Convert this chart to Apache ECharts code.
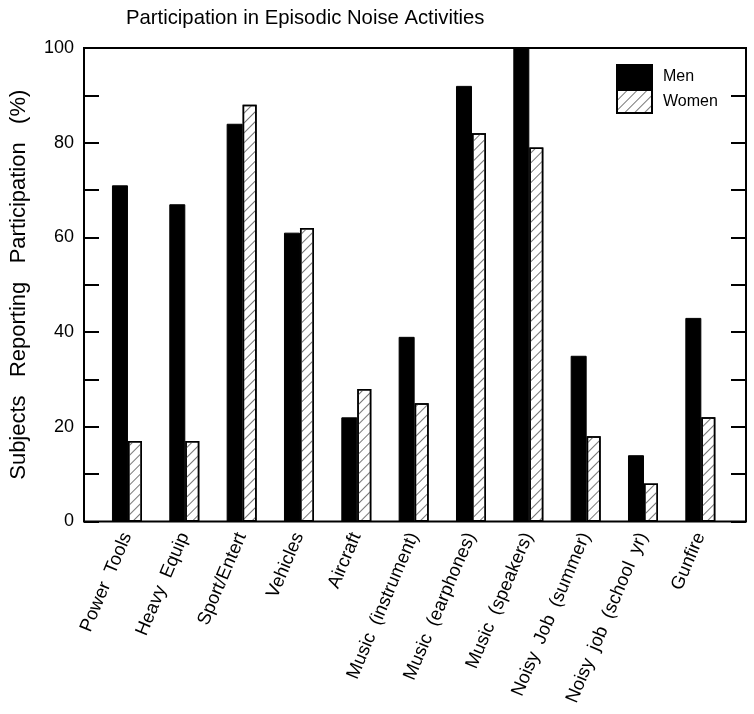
<!DOCTYPE html>
<html>
<head>
<meta charset="utf-8">
<script src="https://cdn.jsdelivr.net/npm/echarts@6/dist/echarts.min.js"></script>
<style>
  html, body { margin: 0; padding: 0; background: #fff; }
  #chart { width: 754px; height: 714px; }
</style>
</head>
<body>
<div id="chart"></div>
<script>
var categories = ['Power  Tools', 'Heavy  Equip', 'Sport/Entert', 'Vehicles', 'Aircraft',
  'Music  (instrument)', 'Music  (earphones)', 'Music  (speakers)', 'Noisy  Job  (summer)',
  'Noisy  job  (school  yr)', 'Gunfire'];
var men = [71, 67, 84, 61, 22, 39, 92, 100, 35, 14, 43];
var women = [17, 17, 88, 62, 28, 25, 82, 79, 18, 8, 22];
var yTicks = [0, 20, 40, 60, 80, 100];

var FONT = 'Liberation Sans';
var chart = echarts.init(document.getElementById('chart'), null, { renderer: 'canvas' });

var hatch = {
  symbol: 'rect',
  symbolSize: 1,
  dashArrayX: [1, 0],
  dashArrayY: [1, 6],
  rotation: -Math.PI / 4,
  color: '#777'
};

var option = {
  animation: false,
  backgroundColor: '#fff',
  title: {
    text: 'Participation in Episodic Noise Activities',
    left: 126, top: 8, padding: 0,
    textStyle: { fontFamily: FONT, fontSize: 20.3, fontWeight: 'normal', color: '#000' }
  },
  legend: {
    orient: 'vertical',
    left: 616, top: 64, padding: 0,
    itemWidth: 35, itemHeight: 23, itemGap: 0,
    icon: 'rect',
    textStyle: { fontFamily: FONT, fontSize: 16, color: '#000', padding: [0, 0, 0, 6] },
    data: ['Men', 'Women']
  },
  grid: [
    { left: 83, right: 8, top: 48, bottom: 192.5, show: true, borderColor: '#000', borderWidth: 2, backgroundColor: 'transparent' },
    { left: 98.3, right: 25, top: 48, bottom: 192.5 }
  ],
  xAxis: [
    { type: 'value', gridIndex: 0, show: false, min: 0, max: 1 },
    {
      type: 'category', gridIndex: 1, data: categories,
      axisLine: { show: false }, axisTick: { show: false },
      axisLabel: { rotate: 67, margin: 12, fontFamily: FONT, fontSize: 18.5, color: '#000', interval: 0 }
    }
  ],
  yAxis: [
    {
      type: 'value', gridIndex: 0, min: 0, max: 100, interval: 10, position: 'left',
      name: 'Subjects   Reporting   Participation   (%)', nameLocation: 'middle', nameGap: 54,
      nameTextStyle: { fontFamily: FONT, fontSize: 22, color: '#000' },
      axisLine: { show: false },
      axisTick: { show: true, inside: true, length: 15, lineStyle: { color: '#000', width: 2 } },
      axisLabel: {
        fontFamily: FONT, fontSize: 18, color: '#000', margin: 10,
        formatter: function (v) { return yTicks.indexOf(v) >= 0 ? String(v) : ''; }
      },
      splitLine: { show: false }
    },
    {
      type: 'value', gridIndex: 0, min: 0, max: 100, interval: 10, position: 'right',
      axisLine: { show: false },
      axisTick: { show: true, inside: true, length: 15, lineStyle: { color: '#000', width: 2 } },
      axisLabel: { show: false },
      splitLine: { show: false }
    },
    { type: 'value', gridIndex: 1, min: 0, max: 100, show: false, splitLine: { show: false } }
  ],
  series: [
    {
      name: 'Men', type: 'bar', xAxisIndex: 1, yAxisIndex: 2,
      data: men, barWidth: 16, barGap: 0,
      itemStyle: { color: '#000', borderColor: '#000', borderWidth: 1 }
    },
    {
      name: 'Women', type: 'bar', xAxisIndex: 1, yAxisIndex: 2,
      data: women, barWidth: 14, barGap: 0,
      itemStyle: { color: '#fff', borderColor: '#000', borderWidth: 1.5, decal: hatch }
    }
  ]
};
chart.setOption(option);
</script>
</body>
</html>
